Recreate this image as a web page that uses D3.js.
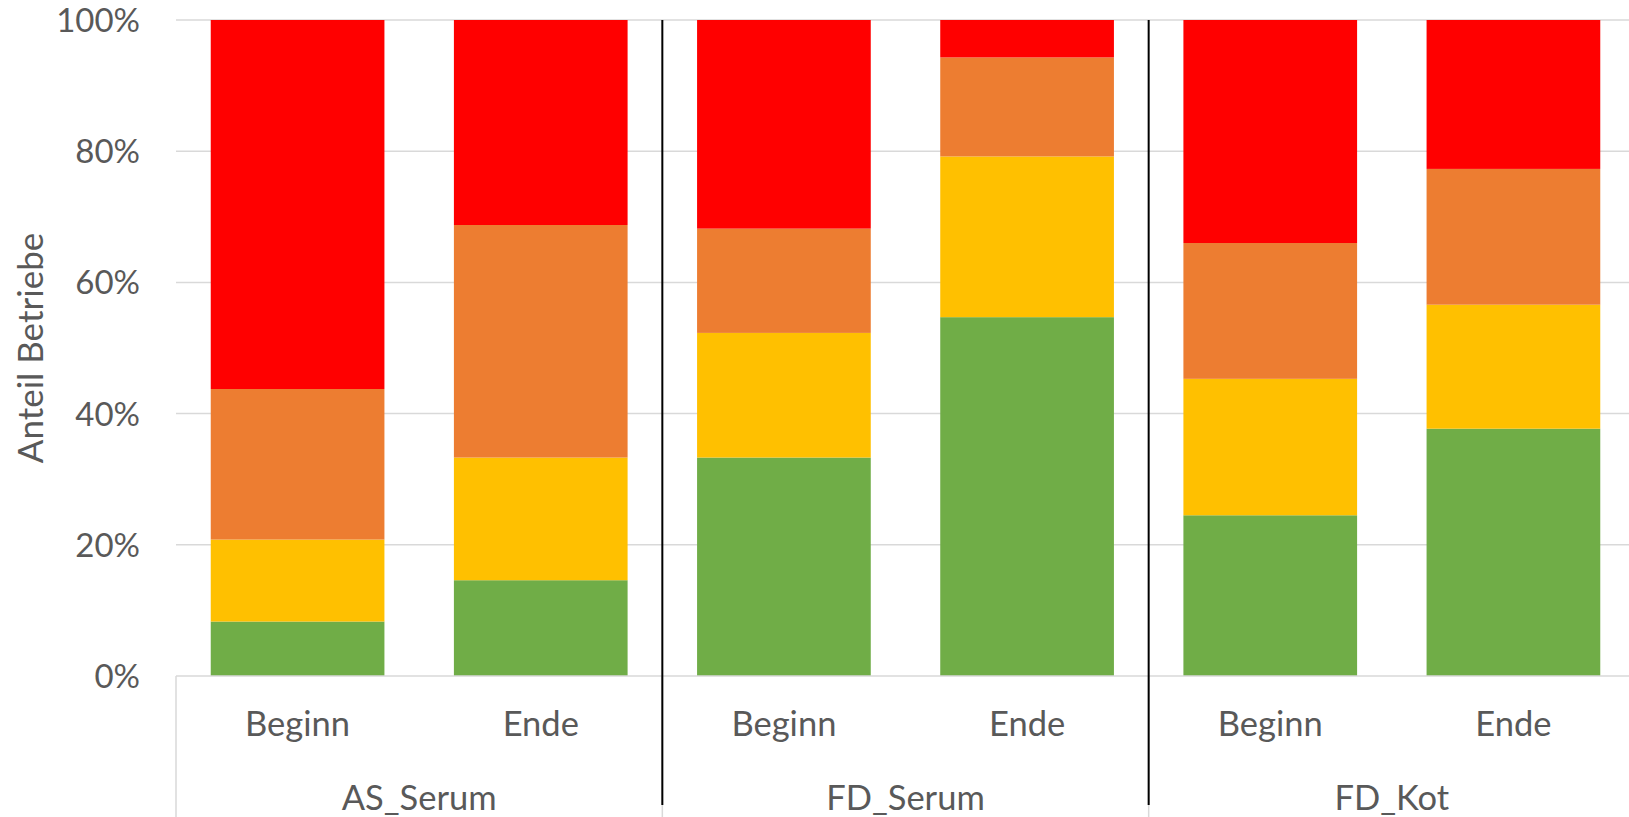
<!DOCTYPE html>
<html>
<head>
<meta charset="utf-8">
<script src="https://cdn.jsdelivr.net/npm/d3@7"></script>
<style>
  html, body { margin: 0; padding: 0; background: #fff; }
  svg { display: block; }
  text { font-family: Lato, "Open Sans", sans-serif; fill: #595959; }
</style>
</head>
<body>
<svg id="chart" width="1629" height="817"></svg>
<script>
// ---- data ----
const groups = ["AS_Serum", "FD_Serum", "FD_Kot"];
const phases = ["Beginn", "Ende"];
const categories = ["AS_Serum|Beginn", "AS_Serum|Ende", "FD_Serum|Beginn", "FD_Serum|Ende", "FD_Kot|Beginn", "FD_Kot|Ende"];
// segment shares in percent (bottom to top)
const green  = [8.3, 14.6, 33.3, 54.7, 24.5, 37.7];
const yellow = [12.5, 18.7, 19.0, 24.5, 20.8, 18.9];
const orange = [22.95, 35.45, 15.9, 15.1, 20.7, 20.7];
const red    = [56.25, 31.25, 31.8, 5.7, 34.0, 22.7];
const seriesNames = ["green", "yellow", "orange", "red"];
const seriesColors = ["#70AD47", "#FFC000", "#ED7D31", "#FF0000"];
const yTicks = [0, 20, 40, 60, 80, 100];
const yTitle = "Anteil Betriebe";

// ---- layout ----
const W = 1629, H = 817;
const x0 = 176, x1 = 1635, yTop = 20, yBot = 676;

const svg = d3.select("#chart");

const table = categories.map((c, i) => ({
  cat: c, green: green[i], yellow: yellow[i], orange: orange[i], red: red[i]
}));

const x = d3.scaleBand().domain(categories).range([x0, x1])
  .paddingInner(0.4 / 1.4).paddingOuter(0.2 / 1.4);
const y = d3.scaleLinear().domain([0, 100]).range([yBot, yTop]);
const color = d3.scaleOrdinal().domain(seriesNames).range(seriesColors);

// gridlines
svg.append("g").selectAll("line").data(yTicks.filter(t => t > 0)).join("line")
  .attr("x1", x0).attr("x2", W)
  .attr("y1", d => y(d)).attr("y2", d => y(d))
  .attr("stroke", "#d9d9d9").attr("stroke-width", 1.5);

// y axis labels
const yAxis = d3.axisLeft(y).tickValues(yTicks).tickFormat(d => d + "%").tickSize(0).tickPadding(0);
const yg = svg.append("g").attr("transform", `translate(${x0 - 36},0)`).call(yAxis);
yg.select(".domain").remove();
yg.selectAll("text").attr("font-size", 33).attr("font-family", "Lato, 'Open Sans', sans-serif")
  .attr("fill", "#595959").attr("dy", "0.35em");

// stacked bars
const stack = d3.stack().keys(seriesNames);
const stacked = stack(table);
svg.append("g").selectAll("g").data(stacked).join("g")
  .attr("fill", d => color(d.key))
  .selectAll("rect").data(d => d).join("rect")
  .attr("x", d => x(d.data.cat))
  .attr("width", x.bandwidth())
  .attr("y", d => y(Math.min(100, d[1])))
  .attr("height", d => y(d[0]) - y(Math.min(100, d[1])));

// category axis line
svg.append("line").attr("x1", x0).attr("x2", W).attr("y1", yBot).attr("y2", yBot)
  .attr("stroke", "#d9d9d9").attr("stroke-width", 1.5);

const step = x.step();
// group boundaries (gray, in axis box)
const bounds = [0, 2, 4].map(k => x0 + k * step);
svg.append("g").selectAll("line").data(bounds).join("line")
  .attr("x1", d => d).attr("x2", d => d)
  .attr("y1", yBot).attr("y2", H)
  .attr("stroke", "#d9d9d9").attr("stroke-width", 1.5);

// black separators between groups
svg.append("g").selectAll("line").data([2, 4].map(k => x0 + k * step)).join("line")
  .attr("x1", d => d).attr("x2", d => d)
  .attr("y1", yTop).attr("y2", 805)
  .attr("stroke", "#000").attr("stroke-width", 2);

// phase labels
svg.append("g").selectAll("text").data(categories).join("text")
  .attr("x", d => x(d) + x.bandwidth() / 2)
  .attr("y", 724).attr("dy", "0.35em")
  .attr("text-anchor", "middle").attr("font-size", 34.5)
  .text(d => d.split("|")[1]);

// group labels
svg.append("g").selectAll("text").data(groups).join("text")
  .attr("x", (d, i) => x0 + (2 * i + 1) * step)
  .attr("y", 798).attr("dy", "0.35em")
  .attr("text-anchor", "middle").attr("font-size", 34.5)
  .text(d => d);

// y title
svg.append("text")
  .attr("transform", `translate(31,${(yTop + yBot) / 2}) rotate(-90)`)
  .attr("dy", "0.35em")
  .attr("text-anchor", "middle").attr("font-size", 35)
  .text(yTitle);
</script>
</body>
</html>
